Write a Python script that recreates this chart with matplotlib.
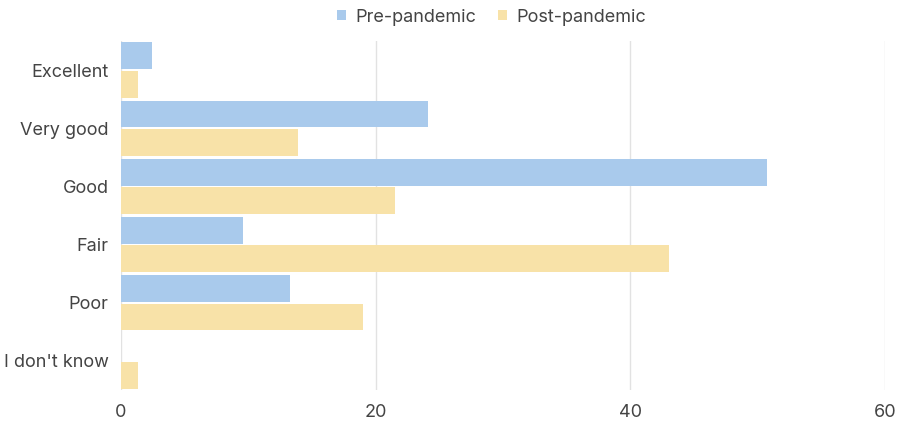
# Self-rated health, before and after the pandemic
import numpy as np
from matplotlib import pyplot as plt

categories = ["Excellent", "Very good", "Good", "Fair", "Poor", "I don't know"]
pre = [2.4, 24.1, 50.7, 9.6, 13.3, 0]
post = [1.3, 13.9, 21.5, 43.0, 19.0, 1.3]
series_names = ["Pre-pandemic", "Post-pandemic"]
xticks = [0, 20, 40, 60]

blue = '#a9caec'
yellow = '#f8e2a8'
text_color = '#444444'

plt.rcParams['font.family'] = ['Inter', 'DejaVu Sans']

fig = plt.figure(figsize=(8.97, 4.29), dpi=100)
ax = fig.add_axes([0.1349, 0.0909, 0.8517, 0.8135])

y = np.arange(len(categories))
h = 0.46
ax.barh(y - h/2 - 0.015, pre, height=h, color=blue, label=series_names[0])
ax.barh(y + h/2 + 0.015, post, height=h, color=yellow, label=series_names[1])

ax.set_ylim(len(categories) - 0.5, -0.5)
ax.set_xlim(0, 60)
ax.set_yticks(y)
ax.set_yticklabels(categories)
ax.set_xticks(xticks)

ax.grid(axis='x', color='#e2e2e2', linewidth=1)
ax.set_axisbelow(True)
for s in ax.spines.values():
    s.set_visible(False)
ax.tick_params(length=0, labelsize=13, colors=text_color)
ax.tick_params(axis='x', pad=10)
ax.tick_params(axis='y', pad=9)

fig.legend(loc='upper center', bbox_to_anchor=(0.548, 1.018), ncol=2, frameon=False,
           fontsize=13, labelcolor=text_color, handlelength=0.5, handleheight=0.5,
           handletextpad=0.5, columnspacing=1.2)

fig.savefig('out.png', dpi=100)
